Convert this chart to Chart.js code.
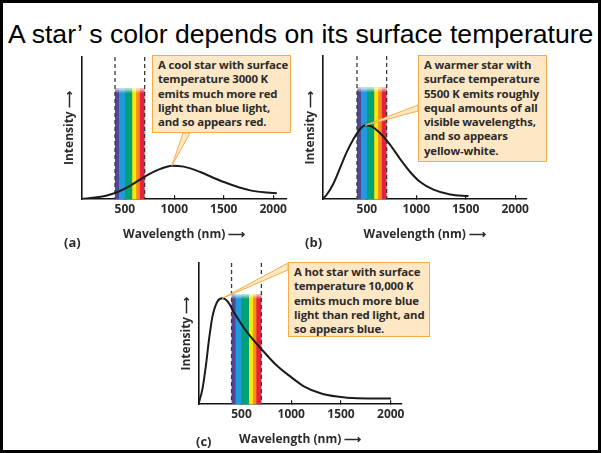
<!DOCTYPE html>
<html>
<head>
<meta charset="utf-8">
<script src="https://cdn.jsdelivr.net/npm/chart.js@4.4.0/dist/chart.umd.min.js"></script>
<style>
  body { margin: 0; background: #fff; }
  #page { position: relative; width: 601px; height: 453px; overflow: hidden; font-family: "Open Sans", sans-serif; color: #2b2b2b; }
  #frame { position: absolute; left: 0; top: 0; width: 601px; height: 453px; box-sizing: border-box; border: 3px solid #000; pointer-events: none; }
  #title { position: absolute; left: 8px; top: 19px; font-family: "Liberation Sans", Arial, sans-serif; font-size: 26.6px; color: #000; white-space: nowrap; }
  .panel { position: absolute; }
  .note { position: absolute; background: #fde7c4; border: 1px solid #f5ad48; box-sizing: border-box; padding: 2px 4px 2px 5px; font-weight: bold; font-size: 11.4px; line-height: 14.3px; color: #2b2b2b; white-space: nowrap; letter-spacing: -0.15px; }
  .tag { position: absolute; font-weight: bold; font-size: 13px; color: #2b2b2b; }
</style>
</head>
<body>
<div id="page">
  <div id="title">A star’ s color depends on its surface temperature</div>

  <div class="panel" style="left:50px;top:50px;width:245px;height:200px;"><canvas id="chartA"></canvas></div>
  <div class="panel" style="left:295px;top:50px;width:255px;height:200px;"><canvas id="chartB"></canvas></div>
  <div class="panel" style="left:170px;top:255px;width:265px;height:200px;"><canvas id="chartC"></canvas></div>

  <div class="note" style="left:152px;top:55px;width:139px;height:78px;">A cool star with surface<br>temperature 3000 K<br>emits much more red<br>light than blue light,<br>and so appears red.</div>
  <div class="note" style="left:418px;top:55px;width:129px;height:107px;">A warmer star with<br>surface temperature<br>5500 K emits roughly<br>equal amounts of all<br>visible wavelengths,<br>and so appears<br>yellow-white.</div>
  <div class="note" style="left:288px;top:262px;width:142px;height:75px;">A hot star with surface<br>temperature 10,000 K<br>emits much more blue<br>light than red light, and<br>so appears blue.</div>

  <div class="tag" style="left:64px;top:233px;">(a)</div>
  <div class="tag" style="left:305px;top:233px;">(b)</div>
  <div class="tag" style="left:196px;top:432px;">(c)</div>

  <div id="frame"></div>
</div>

<script>
// x axis labels (nm)
var tickValues = [500, 1000, 1500, 2000];
// visible part of the spectrum and its colour bands
var visibleBand = [400, 700];
var bandEdges = [400, 440, 500, 575, 615, 650, 700];
var bandColors = ['#554597', '#1f9ada', '#00a078', '#ffe600', '#f68a24', '#e4233b'];
var bandTop = 78;

// curves: wavelength (nm) / intensity (0-100 of axis height)
var coolWave = [60, 219, 394, 556, 714, 859, 976, 1094, 1263, 1431, 1599, 1768, 1936, 2037];
var coolIntensity = [0.2, 1.3, 4.2, 9.6, 16.4, 21.3, 23.6, 22.9, 19.1, 14, 9.6, 6.2, 4.7, 4.2];

var warmWave = [51, 95, 162, 230, 297, 365, 432, 483, 550, 635, 736, 837, 938, 1040, 1174, 1343, 1528];
var warmIntensity = [0, 3.3, 11, 22, 33, 42, 49, 51.6, 50.7, 46, 38, 28, 19, 12, 6.7, 3.3, 2.2];

var hotWave = [67, 107, 140, 174, 208, 258, 308, 358, 425, 525, 625, 726, 860, 993, 1127, 1294, 1461, 1662, 2003];
var hotIntensity = [0, 10.5, 26, 46, 62, 72.7, 75, 73, 65, 54, 45, 37, 27, 19.5, 12.7, 7.8, 5.4, 4.2, 4];

function toPoints(xs, ys) {
  var pts = [];
  for (var i = 0; i < xs.length; i++) pts.push({x: xs[i], y: ys[i]});
  return pts;
}

var spectrumPlugin = {
  id: 'spectrum',
  beforeDatasetsDraw: function(chart) {
    var ctx = chart.ctx, xs = chart.scales.x, ys = chart.scales.y, area = chart.chartArea;
    var x0 = xs.getPixelForValue(visibleBand[0]), x1 = xs.getPixelForValue(visibleBand[1]);
    var top = ys.getPixelForValue(bandTop);
    var span = visibleBand[1] - visibleBand[0];
    var g = ctx.createLinearGradient(x0, 0, x1, 0);
    for (var i = 0; i < bandColors.length; i++) {
      var a = (bandEdges[i] - visibleBand[0]) / span, b = (bandEdges[i + 1] - visibleBand[0]) / span;
      g.addColorStop(Math.min(1, a + (i ? 0.012 : 0)), bandColors[i]);
      g.addColorStop(Math.max(0, b - (i < bandColors.length - 1 ? 0.012 : 0)), bandColors[i]);
    }
    ctx.save();
    ctx.fillStyle = g;
    ctx.fillRect(x0, top, x1 - x0, area.bottom - top);
    var f = ctx.createLinearGradient(0, top, 0, top + 5);
    f.addColorStop(0, 'rgba(255,255,255,0.8)');
    f.addColorStop(1, 'rgba(255,255,255,0)');
    ctx.fillStyle = f;
    ctx.fillRect(x0, top, x1 - x0, 5);
    ctx.setLineDash([4, 3]);
    ctx.strokeStyle = '#3a3a3a';
    ctx.lineWidth = 1.3;
    [x0, x1].forEach(function(px) {
      ctx.beginPath();
      ctx.moveTo(px, area.top);
      ctx.lineTo(px, area.bottom);
      ctx.stroke();
    });
    ctx.restore();
  },
  afterDatasetsDraw: function(chart, args, opts) {
    if (!opts.from) return;
    var data = chart.data.datasets[0].data, best = data[0];
    data.forEach(function(p) { if (p.y > best.y) best = p; });
    var px = chart.scales.x.getPixelForValue(best.x), py = chart.scales.y.getPixelForValue(best.y);
    var ctx = chart.ctx;
    ctx.save();
    ctx.beginPath();
    ctx.moveTo(opts.from[0], opts.from[1]);
    ctx.lineTo(px, py);
    ctx.lineTo(opts.from[2], opts.from[3]);
    ctx.closePath();
    ctx.fillStyle = '#fde7c4';
    ctx.fill();
    ctx.strokeStyle = '#f5ad48';
    ctx.lineWidth = 1;
    ctx.stroke();
    ctx.restore();
  }
};

var labelFont = {family: 'Open Sans', weight: 'bold', size: 12};

function makeChart(id, xs, ys, xMin, xMax, pad, from) {
  return new Chart(document.getElementById(id), {
    type: 'line',
    data: {
      datasets: [{
        data: toPoints(xs, ys),
        borderColor: '#1b1b1b',
        borderWidth: 2,
        pointRadius: 0,
        cubicInterpolationMode: 'monotone',
        fill: false
      }]
    },
    options: {
      responsive: true,
      maintainAspectRatio: false,
      animation: false,
      events: [],
      layout: {padding: pad},
      plugins: {
        legend: {display: false},
        tooltip: {enabled: false},
        spectrum: {from: from}
      },
      scales: {
        x: {
          type: 'linear',
          min: xMin,
          max: xMax,
          border: {color: '#151515', width: 1.6},
          grid: {drawOnChartArea: false, tickLength: -4, color: '#151515', lineWidth: 1.2},
          afterBuildTicks: function(s) { s.ticks = tickValues.map(function(v) { return {value: v}; }); },
          ticks: {
            padding: 7, color: '#2b2b2b', font: labelFont, autoSkip: false, maxRotation: 0,
            callback: function(v) { return String(v); }
          },
          title: {display: true, text: 'Wavelength (nm) ⟶', color: '#2b2b2b', font: labelFont, padding: {top: 4, bottom: 0}}
        },
        y: {
          min: 0,
          max: 100,
          border: {color: '#151515', width: 1.6},
          grid: {display: false, drawTicks: false},
          ticks: {display: false},
          title: {display: true, text: 'Intensity ⟶', color: '#2b2b2b', font: labelFont, padding: {top: 0, bottom: 5}}
        }
      }
    },
    plugins: [spectrumPlugin]
  });
}

makeChart('chartA', coolWave, coolIntensity, 60, 2140, {top: 7, left: 12, right: 8, bottom: 8}, [133, 83, 140, 83]);
makeChart('chartB', warmWave, warmIntensity, 50, 2120, {top: 6, left: 8, right: 23, bottom: 8}, [123, 55, 123, 61]);
makeChart('chartC', hotWave, hotIntensity, 67, 2113, {top: 8, left: 9, right: 33, bottom: 8}, [118, 8, 118, 15]);
</script>
</body>
</html>
